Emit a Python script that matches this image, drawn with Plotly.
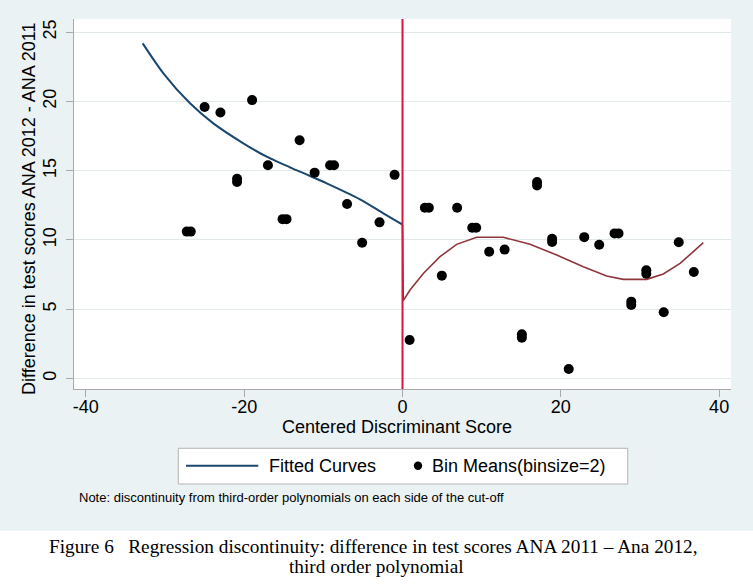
import plotly.graph_objects as go

# ---------------- data ----------------
bin_x = [-27.25, -26.75, -25.0, -23.0, -20.9, -20.9, -19.0, -17.0, -15.15, -14.65,
         -13.0, -11.1, -9.15, -8.65, -7.0, -5.1, -2.9, -1.0,
         0.9, 2.83, 3.33, 4.97, 6.9, 8.81, 9.31, 10.95, 12.9, 15.08, 15.08,
         17.0, 17.0, 18.9, 18.9, 21.0, 22.96, 24.85, 26.79, 27.29, 28.9, 28.9,
         30.8, 30.8, 33.0, 34.9, 36.8]
bin_y = [10.6, 10.6, 19.6, 19.2, 14.42, 14.18, 20.1, 15.4, 11.5, 11.5,
         17.2, 14.86, 15.4, 15.4, 12.6, 9.8, 11.27, 14.7,
         2.77, 12.33, 12.33, 7.42, 12.33, 10.88, 10.88, 9.15, 9.3, 3.18, 2.94,
         14.18, 13.94, 10.09, 9.85, 0.67, 10.2, 9.65, 10.47, 10.47, 5.54, 5.30,
         7.80, 7.56, 4.77, 9.83, 7.68]

left_x = [-32.82, -30.21, -26.84, -23.90, -20.11, -17.16, -12.95, -9.58, -5.37, -2.42, 0.0]
left_y = [24.20, 22.04, 19.87, 18.42, 16.98, 16.01, 14.93, 14.09, 12.93, 11.92, 11.1]

right_x = [0.0, 0.1, 0.95, 2.63, 4.74, 6.84, 9.37, 12.74, 16.11, 19.48, 22.84,
           25.79, 27.90, 30.85, 32.95, 35.06, 36.74, 38.0]
right_y = [11.1, 5.61, 6.38, 7.58, 8.79, 9.68, 10.19, 10.19, 9.68, 8.91, 8.07,
           7.39, 7.15, 7.15, 7.54, 8.31, 9.15, 9.80]

x_ticks = [-40, -20, 0, 20, 40]
y_ticks = [0, 5, 10, 15, 20, 25]
cutoff = 0

x_title = "Centered Discriminant Score"
y_title = "Difference in test scores ANA 2012 - ANA 2011"
legend_labels = ["Fitted Curves", "Bin Means(binsize=2)"]
note = "Note: discontinuity from third-order polynomials on each side of the cut-off"
caption1 = "Figure 6   Regression discontinuity: difference in test scores ANA 2011 \u2013 Ana 2012,"
caption2 = "third order polynomial"

# ---------------- styling ----------------
W, H = 753, 585
ML, MR, MT, MB = 74, 22, 19, 196
PW, PH = W - ML - MR, H - MT - MB
SANS = "Liberation Sans, Arial, sans-serif"
SERIF = "Liberation Serif, Times New Roman, serif"
BG = "#eaf2f3"
GRID = "#e1e9eb"
AXIS = "#a9a9a9"
NAVY = "#1a476f"
MAROON = "#90353b"
RED = "#d8173b"


def px(x):
    return (x - ML) / PW


def py(y):
    return (H - MB - y) / PH


fig = go.Figure()

fig.add_trace(go.Scatter(x=left_x, y=left_y, mode="lines", line=dict(color=NAVY, width=2, shape="spline", smoothing=0.8),
                         showlegend=False, hoverinfo="skip"))
fig.add_trace(go.Scatter(x=right_x, y=right_y, mode="lines", line=dict(color=MAROON, width=1.6, shape="linear"),
                         showlegend=False, hoverinfo="skip"))
fig.add_trace(go.Scatter(x=bin_x, y=bin_y, mode="markers", marker=dict(color="black", size=10, line=dict(width=0)),
                         showlegend=False, hoverinfo="skip"))

shapes = [
    # grey graph region
    dict(type="rect", xref="paper", yref="paper", x0=px(0), x1=px(W), y0=py(530.7), y1=py(0),
         fillcolor=BG, line=dict(width=0), layer="below"),
    # white plot region
    dict(type="rect", xref="paper", yref="paper", x0=0, x1=1, y0=0, y1=1,
         fillcolor="white", line=dict(width=0), layer="below"),
    # cut-off line
    dict(type="line", xref="x", yref="paper", x0=cutoff, x1=cutoff, y0=0, y1=1,
         line=dict(color=RED, width=2), layer="above"),
    # legend box
    dict(type="rect", xref="paper", yref="paper", x0=px(178.3), x1=px(627.7), y0=py(484), y1=py(448.3),
         fillcolor="white", line=dict(color="#b4b4b4", width=1)),
    # legend line sample
    dict(type="line", xref="paper", yref="paper", x0=px(186), x1=px(258.3), y0=py(465.7), y1=py(465.7),
         line=dict(color=NAVY, width=2)),
    # legend dot sample
    dict(type="circle", xref="paper", yref="paper", x0=px(413.8), x1=px(422.2), y0=py(469.9), y1=py(461.5),
         fillcolor="black", line=dict(width=0)),
]

annotations = [
    dict(text=x_title, xref="paper", yref="paper", x=px(397), y=py(427), showarrow=False,
         xanchor="center", yanchor="middle", font=dict(family=SANS, size=18, color="black")),
    dict(text=y_title, xref="paper", yref="paper", x=px(29), y=py(209), showarrow=False, textangle=-90,
         xanchor="center", yanchor="middle", font=dict(family=SANS, size=18, color="black")),
    dict(text=legend_labels[0], xref="paper", yref="paper", x=px(266.5), y=py(465.7), showarrow=False,
         xanchor="left", yanchor="middle", font=dict(family=SANS, size=18, color="black")),
    dict(text=legend_labels[1], xref="paper", yref="paper", x=px(430), y=py(465.7), showarrow=False,
         xanchor="left", yanchor="middle", font=dict(family=SANS, size=18, color="black")),
    dict(text=note, xref="paper", yref="paper", x=px(76.5), y=py(498), showarrow=False,
         xanchor="left", yanchor="middle", font=dict(family=SANS, size=13, color="black")),
    dict(text=caption1, xref="paper", yref="paper", x=px(373), y=py(546), showarrow=False,
         xanchor="center", yanchor="middle", font=dict(family=SERIF, size=19.3, color="black")),
    dict(text=caption2, xref="paper", yref="paper", x=px(376.5), y=py(566), showarrow=False,
         xanchor="center", yanchor="middle", font=dict(family=SERIF, size=19.3, color="black")),
]

fig.update_layout(
    width=W, height=H,
    margin=dict(l=ML, r=MR, t=MT, b=MB, pad=0),
    paper_bgcolor="white",
    plot_bgcolor="rgba(0,0,0,0)",
    showlegend=False,
    shapes=shapes,
    annotations=annotations,
    xaxis=dict(range=[-41.5, 41.5], tickvals=x_ticks, ticktext=[str(v) for v in x_ticks],
               showgrid=False, zeroline=False, showline=True, linecolor=AXIS, linewidth=1,
               ticks="outside", ticklen=7, tickcolor=AXIS, tickwidth=1, ticklabelstandoff=-6,
               tickfont=dict(family=SANS, size=18, color="black")),
    yaxis=dict(range=[-0.77, 25.96], tickvals=y_ticks, ticktext=[str(v) for v in y_ticks],
               showgrid=True, gridcolor=GRID, gridwidth=1, zeroline=False,
               showline=True, linecolor=AXIS, linewidth=1,
               ticks="outside", ticklen=7, tickcolor=AXIS, tickwidth=1, tickangle=-90,
               ticklabelstandoff=3,
               tickfont=dict(family=SANS, size=18, color="black")),
)

fig.write_html(
    "out.html",
    config={"displayModeBar": False},
    post_script="document.body.style.margin='0';document.body.style.padding='0';"
                "document.body.style.overflow='hidden';",
)
